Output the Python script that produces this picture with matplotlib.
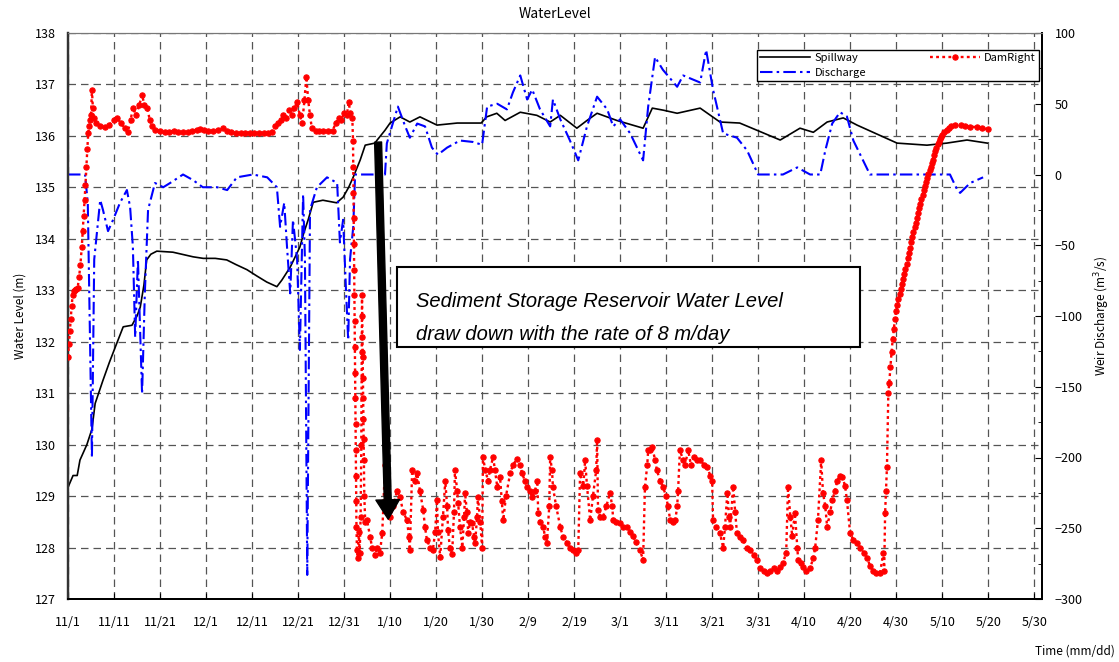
import matplotlib
matplotlib.use("Agg")
import matplotlib.pyplot as plt
from matplotlib.patches import Rectangle
from matplotlib.ticker import MultipleLocator

# x is "days since 11/1"
tick_days = list(range(0, 211, 10))
tick_labels = ["11/1", "11/11", "11/21", "12/1", "12/11", "12/21", "12/31",
               "1/10", "1/20", "1/30", "2/9", "2/19", "3/1", "3/11", "3/21",
               "3/31", "4/10", "4/20", "4/30", "5/10", "5/20", "5/30"]

# Spillway water level (m)
spill_day = [0, 1.1, 2.0, 2.6, 4.1, 5.2, 5.9, 7.6, 9.0, 10.6,
             12.0, 13.9, 15.0, 15.7, 16.5, 17.1, 18.0, 19.3, 22.8, 27.2,
             29.4, 32.0, 34.5, 36.5, 38.9, 41.0, 43.2, 45.4, 46.5, 48.3,
             50.4, 51.2, 52.2, 53.3, 55.4, 58.4, 59.8, 61.0, 62.0, 63.5,
             64.6, 66.7, 67.2, 68.9, 70.0, 72.2, 74.3, 76.5, 80.2, 84.6,
             89.8, 91.0, 93.2, 95.0, 98.3, 101.9, 104.8, 107.0, 110.6, 112.8,
             115.0, 119.3, 125.0, 127.0, 129.4, 132.4, 137.4, 141.7, 146.0, 154.8,
             159.1, 162.0, 165.0, 168.5, 171.5, 180.2, 186.7, 191.0, 195.4, 199.8]
spill_level = [129.17, 129.40, 129.40, 129.70, 130.00, 130.30, 130.80, 131.25, 131.60, 131.97,
               132.29, 132.32, 132.50, 132.67, 133.10, 133.59, 133.70, 133.76, 133.74, 133.65,
               133.62, 133.62, 133.59, 133.50, 133.40, 133.28, 133.16, 133.07, 133.20, 133.45,
               133.84, 134.10, 134.37, 134.71, 134.75, 134.70, 134.81, 135.00, 135.20, 135.53,
               135.82, 135.86, 135.92, 136.11, 136.25, 136.37, 136.27, 136.37, 136.21, 136.25,
               136.25, 136.37, 136.44, 136.30, 136.46, 136.40, 136.27, 136.40, 136.15, 136.30,
               136.44, 136.30, 136.15, 136.54, 136.50, 136.44, 136.54, 136.27, 136.25, 135.92,
               136.15, 136.07, 136.27, 136.35, 136.21, 135.86, 135.82, 135.86, 135.92, 135.86]

# Weir discharge (m3/s), right axis
dis_day = [0, 3.7, 4.3, 5.2, 5.7, 7.0, 7.6, 8.7, 9.8, 11.3,
           12.8, 13.5, 14.1, 14.6, 15.2, 16.1, 16.7, 17.4, 18.9, 20.7,
           22.2, 25.0, 27.2, 29.3, 32.4, 34.6, 36.7, 40.2, 43.3, 45.4,
           46.1, 47.0, 47.6, 48.3, 48.9, 49.8, 50.4, 51.1, 51.5, 52.0,
           52.6, 54.1, 56.3, 58.5, 59.1, 59.8, 60.4, 60.9, 61.3, 62.0,
           62.4, 65.7, 68.9, 69.3, 70.4, 71.7, 73.3, 74.3, 75.9, 77.6,
           79.1, 80.4, 82.4, 85.2, 88.0, 90.0, 91.1, 93.3, 95.4, 96.7,
           98.3, 99.8, 100.9, 102.6, 104.8, 105.4, 107.0, 109.1, 110.9, 112.8,
           115.0, 117.2, 118.5, 120.0, 122.2, 125.0, 126.1, 127.6, 129.3, 132.4,
           133.7, 137.4, 138.7, 140.2, 142.4, 145.4, 147.6, 150.0, 155.4, 158.5,
           161.3, 163.5, 164.6, 166.1, 167.8, 169.3, 170.7, 172.8, 174.3, 191.7,
           193.3, 193.9, 196.1, 198.9]
dis_flow = [0, 0, -20, -200, -60, -18, -25, -40, -32, -20,
            -11, -23, -51, -115, -60, -155, -84, -25, -6, -9,
            -6, 0, -4, -9, -9, -11, -2, 0, -2, -9,
            -37, -20, -51, -84, -32, -60, -124, -14, -60, -283,
            -25, -9, -2, -6, -48, -32, -80, -117, -60, -37,
            0, 0, 0, 22, 34, 48, 34, 26, 36, 34,
            19, 14, 19, 24, 23, 21, 48, 50, 46, 58,
            70, 53, 60, 46, 34, 53, 39, 24, 10, 34,
            55, 46, 34, 39, 29, 10, 48, 83, 74, 62,
            70, 65, 88, 60, 29, 26, 17, 0, 0, 5,
            0, 0, 17, 36, 44, 41, 24, 10, 0, 0,
            -11, -13, -6, -2]

# DamRight water level (m), split by period
fill_day = [0.0, 0.2, 0.4, 0.6, 0.8, 1.0, 1.2, 1.5, 1.8, 2.1,
            2.4, 2.7, 3.0, 3.2, 3.4, 3.6, 3.8, 4.0, 4.2, 4.4,
            4.6, 4.8, 5.0, 5.2, 5.4, 5.6]
fill_level = [131.70, 131.95, 132.20, 132.45, 132.70, 132.90, 132.98, 133.00, 133.02, 133.05,
              133.25, 133.50, 133.85, 134.15, 134.45, 134.75, 135.05, 135.40, 135.75, 136.05,
              136.20, 136.30, 136.40, 136.90, 136.55, 136.35]

high_day = [6.0, 7.0, 8.0, 9.0, 10.0, 10.6, 11.5, 12.3, 13.0, 13.6,
            14.1, 14.8, 15.5, 16.1, 16.6, 17.2, 17.8, 18.3, 19.0, 20.0,
            21, 22, 23, 24, 25, 26, 27, 28, 28.7, 29.5,
            30.5, 31.5, 32.5, 33.7, 34.5, 35.5, 36.5, 37.5, 38.5, 39.5,
            40.5, 41.5, 42.5, 43.5, 44.3, 45.0, 45.6, 46.2, 46.8, 47.4,
            48.0, 48.6, 49.2, 49.8, 50.4, 50.9, 51.4, 51.8, 52.2, 52.6,
            53.0, 53.8, 54.6, 55.5, 56.5, 57.5, 58.2, 58.8, 59.4, 60.0,
            60.6, 61.0, 61.4, 61.8]
high_level = [136.25, 136.20, 136.17, 136.22, 136.30, 136.35, 136.25, 136.15, 136.08, 136.30,
              136.55, 136.40, 136.60, 136.80, 136.60, 136.55, 136.30, 136.20, 136.12, 136.10,
              136.08, 136.08, 136.10, 136.08, 136.07, 136.07, 136.10, 136.12, 136.14, 136.12,
              136.10, 136.10, 136.12, 136.15, 136.10, 136.07, 136.06, 136.06, 136.06, 136.06,
              136.06, 136.06, 136.06, 136.06, 136.08, 136.20, 136.25, 136.30, 136.40, 136.35,
              136.50, 136.40, 136.55, 136.65, 136.40, 136.25, 136.70, 137.15, 136.70, 136.40,
              136.15, 136.10, 136.10, 136.10, 136.10, 136.10, 136.25, 136.35, 136.30, 136.45,
              136.40, 136.65, 136.45, 136.35]

drop_day = [61.95, 62.0, 62.05, 62.1, 62.15, 62.2, 62.25, 62.3, 62.35, 62.4,
            62.45, 62.5, 62.55, 62.6, 62.65, 62.7, 62.8, 63.0, 63.2, 63.4,
            63.6, 63.75, 63.85, 63.9, 63.95, 64.0, 64.05, 64.1, 64.15, 64.2,
            64.25, 64.3, 64.4, 64.6]
drop_level = [135.90, 135.40, 134.90, 134.40, 133.90, 133.40, 132.90, 132.40, 131.90, 131.40,
              130.90, 130.40, 129.90, 129.40, 128.90, 128.40, 127.95, 127.80, 128.30, 127.90,
              128.60, 130.00, 131.80, 132.90, 132.50, 132.10, 131.70, 131.30, 130.90, 130.50,
              130.10, 129.70, 129.00, 128.50]

low_day = [65.0, 65.7, 66.1, 66.7, 67.2, 67.8, 68.3, 68.9, 69.6, 70.0,
           70.7, 71.5, 72.2, 72.8, 73.7, 74.1, 74.3, 74.8, 75.4, 75.9,
           76.5, 77.2, 77.6, 78.0, 78.7, 79.3, 79.8, 80.2, 80.4, 80.9,
           81.5, 82.0, 82.4, 82.6, 83.0, 83.5, 83.9, 84.1, 84.6, 84.8,
           85.2, 85.7, 86.1, 86.3, 86.7, 87.0, 87.4, 87.8, 88.3, 88.5,
           88.9, 89.1, 89.6, 90.0, 90.2, 90.7, 91.3, 91.7, 92.4, 92.8,
           93.3, 93.9, 94.3, 94.6, 95.2, 96.1, 96.7, 97.6, 98.3, 98.7,
           99.3, 99.8, 100.4, 100.9, 101.5, 102.0, 102.2, 102.6, 103.3, 103.7,
           104.1, 104.6, 104.8, 105.2, 105.4, 106.1, 107.0, 107.6, 108.5, 109.1,
           109.8, 110.4, 110.9, 111.3, 112.0, 112.4, 112.8, 113.5, 114.1, 114.8,
           115.0, 115.2, 115.7, 116.3, 117.0, 117.8, 118.3, 118.5, 119.1, 120.0,
           120.7, 121.5, 122.2, 122.8, 123.5, 124.3, 125.0, 125.4, 125.9, 126.1,
           126.5, 127.0, 127.6, 128.0, 128.7, 129.3, 130.0, 130.4, 130.9, 131.5,
           132.0, 132.4, 132.6, 133.0, 133.7, 134.1, 134.8, 135.4, 136.1, 136.7,
           137.4, 138.3, 138.9, 139.6, 140.0, 140.2, 140.9, 141.7, 142.4, 142.8,
           143.3, 143.7, 143.9, 144.6, 145.0, 145.4, 146.1, 146.7, 147.6, 148.3,
           149.1, 149.8, 150.4, 151.3, 152.0, 152.6, 153.5, 154.1, 154.8, 155.4,
           156.1, 156.5, 157.0, 157.4, 158.0, 158.5, 158.7, 159.3, 159.8, 160.4,
           161.3, 162.0, 162.4, 163.0, 163.7, 164.1, 164.6, 165.0, 165.7, 166.1,
           166.7, 167.2, 167.8, 168.3, 168.9, 169.3, 170.0, 170.7, 171.5, 172.2,
           173.0, 173.7, 174.3, 175.0, 175.7, 176.5, 177.2, 177.4, 177.6, 177.8,
           178.0, 178.3]
low_level = [128.53, 128.20, 128.00, 127.85, 128.00, 127.90, 128.28, 129.60, 128.86, 128.60,
             128.80, 129.10, 128.98, 128.70, 128.53, 128.20, 127.95, 129.50, 129.30, 129.44,
             129.10, 128.73, 128.40, 128.15, 128.00, 127.95, 128.30, 128.92, 128.30, 127.82,
             128.60, 129.30, 128.80, 128.34, 128.00, 127.88, 128.70, 129.50, 129.10, 128.86,
             128.40, 128.00, 128.60, 129.06, 128.70, 128.28, 128.50, 128.47, 128.20, 128.09,
             128.60, 128.98, 128.50, 128.00, 129.76, 129.50, 129.30, 129.50, 129.76, 129.50,
             129.18, 129.37, 128.90, 128.53, 129.00, 129.44, 129.60, 129.73, 129.60, 129.44,
             129.30, 129.18, 129.10, 128.98, 129.10, 129.30, 128.67, 128.50, 128.40, 128.20,
             128.09, 128.80, 129.76, 129.50, 129.18, 128.80, 128.40, 128.20, 128.09, 128.00,
             127.95, 127.90, 127.95, 129.44, 129.20, 129.70, 129.20, 128.53, 129.00, 129.50,
             130.09, 128.73, 128.60, 128.60, 128.80, 129.06, 128.80, 128.53, 128.50, 128.47,
             128.40, 128.40, 128.30, 128.22, 128.10, 127.95, 127.76, 129.18, 129.60, 129.89,
             129.90, 129.95, 129.70, 129.50, 129.30, 129.18, 129.00, 128.80, 128.53, 128.50,
             128.53, 128.80, 129.10, 129.89, 129.70, 129.60, 129.89, 129.60, 129.75, 129.70,
             129.70, 129.60, 129.57, 129.40, 129.30, 128.53, 128.40, 128.28, 128.00, 128.40,
             129.06, 128.60, 128.40, 129.18, 128.70, 128.28, 128.20, 128.15, 128.00, 127.95,
             127.85, 127.76, 127.60, 127.55, 127.50, 127.55, 127.60, 127.55, 127.62, 127.70,
             127.90, 129.18, 128.60, 128.22, 128.67, 128.00, 127.76, 127.70, 127.62, 127.55,
             127.60, 127.80, 128.00, 128.53, 129.70, 129.06, 128.80, 128.40, 128.70, 128.92,
             129.10, 129.30, 129.40, 129.37, 129.20, 128.92, 128.28, 128.15, 128.09, 128.00,
             127.90, 127.80, 127.65, 127.55, 127.50, 127.50, 127.90, 127.55, 128.67, 129.10,
             129.57, 131.00]

refill_day = [178.5, 178.75, 179.0, 179.25, 179.5, 179.75, 180.0, 180.25, 180.5, 180.75,
              181.0, 181.25, 181.5, 181.75, 182.0, 182.25, 182.5, 182.75, 183.0, 183.25,
              183.5, 183.75, 184.0, 184.25, 184.5, 184.75, 185.0, 185.25, 185.5, 185.75,
              186.0, 186.25, 186.5, 186.75, 187.0, 187.25, 187.5, 187.75, 188.0, 188.25,
              188.5, 188.75, 189.0, 189.25, 189.5, 189.75, 190.0, 190.5, 191.0, 191.5,
              192.0, 192.8, 194.0, 195.0, 196.1, 197.6, 198.7, 200.0]
refill_level = [131.20, 131.50, 131.80, 132.05, 132.25, 132.45, 132.60, 132.72, 132.83, 132.93,
                133.02, 133.12, 133.22, 133.32, 133.42, 133.52, 133.62, 133.72, 133.83, 133.93,
                134.03, 134.13, 134.22, 134.31, 134.40, 134.50, 134.59, 134.68, 134.77, 134.86,
                134.94, 135.02, 135.10, 135.18, 135.26, 135.33, 135.40, 135.47, 135.54, 135.62,
                135.70, 135.77, 135.84, 135.89, 135.94, 135.98, 136.02, 136.08, 136.12, 136.16,
                136.20, 136.21, 136.21, 136.19, 136.18, 136.17, 136.15, 136.13]

note_lines = ["Sediment Storage Reservoir Water Level",
              "draw down with the rate of 8 m/day"]


def main():
    plt.rcParams["font.family"] = ["Noto Sans CJK JP", "DejaVu Sans"]
    W, H = 1119, 662
    fig = plt.figure(figsize=(W / 100, H / 100), dpi=100)
    ax = fig.add_axes([68 / W, 63 / H, 974 / W, 566 / H])
    ax2 = ax.twinx()

    dam_day = fill_day + high_day + drop_day + low_day + refill_day
    dam_level = fill_level + high_level + drop_level + low_level + refill_level

    spill, = ax.plot(spill_day, spill_level, color="black", lw=1.2, label="Spillway")
    dis, = ax2.plot(dis_day, dis_flow, color="#0000ff", lw=1.5,
                    dashes=(6, 2, 1.2, 2), label="Discharge")
    dam, = ax2.plot(dam_day, dam_level, transform=ax.transData, color="red",
                    lw=1.7, dashes=(1.2, 1.4), marker="o", ms=3.8, mfc="red",
                    mec="red", mew=0.8, label="DamRight", zorder=3)

    ax.set_xlim(0, 211.7)
    ax.set_ylim(127, 138)
    ax2.set_ylim(-300, 100)
    ax.set_xticks(tick_days)
    ax.set_xticklabels(tick_labels)
    ax.yaxis.set_major_locator(MultipleLocator(1))
    ax2.yaxis.set_major_locator(MultipleLocator(50))
    ax2.yaxis.set_minor_locator(MultipleLocator(25))

    ax.grid(True, color="#555555", lw=0.9, linestyle=(0, (6, 4)))
    ax.tick_params(axis="x", direction="in", length=4, pad=12, labelsize=9)
    ax.tick_params(axis="y", length=0, pad=9, labelsize=9)
    ax2.tick_params(axis="y", which="major", direction="in", length=5, pad=9, labelsize=9)
    ax2.tick_params(axis="y", which="minor", direction="in", length=3)

    for a in (ax, ax2):
        a.spines["left"].set_color("#333333")
        a.spines["left"].set_linewidth(1.6)
        a.spines["bottom"].set_linewidth(1.4)
        a.spines["right"].set_linewidth(1.4)
        a.spines["top"].set_color("#777777")

    ax.set_ylabel("Water Level (m)", fontsize=8.5, labelpad=6)
    ax2.set_ylabel("Weir Discharge (m$^3$/s)", fontsize=8.5, labelpad=7)
    fig.text(1115 / W, 1 - 651 / H, "Time (mm/dd)", ha="right", va="center", fontsize=8.5)
    fig.text(555 / W, 1 - 14 / H, "WaterLevel", ha="center", va="center", fontsize=10)

    # drawdown arrow from the spillway level down to the dam level
    ax2.annotate("", xy=(69.6, 128.55), xycoords=ax.transData,
                 xytext=(67.4, 135.88), textcoords=ax.transData,
                 arrowprops=dict(facecolor="black", edgecolor="black", width=5,
                                 headwidth=17, headlength=14, shrink=0),
                 zorder=5)

    ax2.add_patch(Rectangle((0.338, 0.4452), 0.475, 0.1414, transform=ax2.transAxes,
                            facecolor="white", edgecolor="black", lw=1.5, zorder=6))
    for yy, line in zip((0.516, 0.4576), note_lines):
        ax2.text(0.357, yy, line, transform=ax2.transAxes, ha="left", va="baseline",
                 fontsize=14.5, style="italic", family="Liberation Sans", zorder=7)

    leg = ax2.legend(handles=[spill, dis, dam], ncol=2, loc="lower left",
                     bbox_to_anchor=(0.707, 0.915, 0.29, 0.07), mode="expand",
                     borderaxespad=0, fontsize=8, handlelength=4.5, numpoints=1,
                     fancybox=False, framealpha=1, edgecolor="black",
                     borderpad=0.3, labelspacing=0.4, handletextpad=0.4)
    leg.get_frame().set_linewidth(1.0)
    leg.set_zorder(8)

    fig.savefig("out.png", dpi=100)
    plt.close(fig)


if __name__ == "__main__":
    main()
